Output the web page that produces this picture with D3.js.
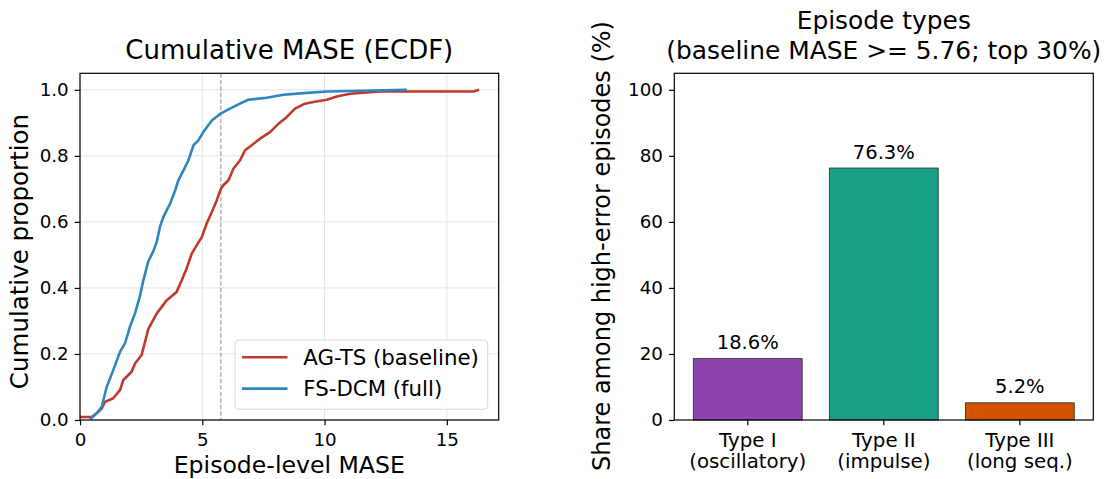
<!DOCTYPE html>
<html>
<head>
<meta charset="utf-8">
<script src="https://cdn.jsdelivr.net/npm/d3@7"></script>
<style>
  body { margin: 0; background: #fff; }
  text { font-family: "DejaVu Sans", sans-serif; fill: #000; }
</style>
</head>
<body>
<svg width="1106" height="479"></svg>
<script>
// ECDF knots
const agtsMase = [0.0, 0.48, 0.68, 0.89, 1.02, 1.36, 1.64, 1.77, 2.11, 2.25, 2.52, 2.79, 3.14, 3.55, 3.95, 4.16, 4.36, 4.57, 4.77, 4.98, 5.18, 5.39, 5.59, 5.76, 5.86, 6.07, 6.27, 6.54, 6.75, 7.02, 7.36, 7.77, 8.11, 8.45, 8.79, 9.20, 9.54, 10.09, 10.5, 11.04, 11.59, 12.27, 16.09, 16.32]
const agtsProp = [0.009, 0.009, 0.02, 0.035, 0.055, 0.066, 0.091, 0.121, 0.146, 0.171, 0.197, 0.275, 0.323, 0.363, 0.388, 0.423, 0.459, 0.504, 0.529, 0.554, 0.595, 0.63, 0.665, 0.70, 0.711, 0.726, 0.761, 0.786, 0.817, 0.832, 0.852, 0.872, 0.897, 0.917, 0.943, 0.958, 0.963, 0.970, 0.980, 0.988, 0.991, 0.995, 0.995, 1.0]

const fsdcmMase = [0.41, 0.68, 0.89, 1.09, 1.36, 1.64, 1.84, 2.04, 2.25, 2.45, 2.59, 2.79, 2.99, 3.14, 3.27, 3.41, 3.68, 3.89, 4.02, 4.23, 4.43, 4.64, 4.84, 5.04, 5.39, 5.73, 6.13, 6.54, 6.88, 7.63, 8.32, 9.13, 10.09, 11.5, 13.36]
const fsdcmProp = [0.002, 0.02, 0.04, 0.10, 0.151, 0.207, 0.232, 0.282, 0.323, 0.375, 0.423, 0.48, 0.51, 0.54, 0.585, 0.615, 0.655, 0.695, 0.726, 0.756, 0.786, 0.832, 0.847, 0.872, 0.907, 0.927, 0.943, 0.958, 0.970, 0.976, 0.985, 0.990, 0.995, 0.997, 1.0]

const threshold = 5.76
const seriesNames = ["AG-TS (baseline)", "FS-DCM (full)"]
const seriesColors = ["#c0392b", "#2e86c1"]
const maseTicks = [0, 5, 10, 15]
const propTicks = [0, 0.2, 0.4, 0.6, 0.8, 1.0]

// bar panel
const typeNames = [["Type I", "(oscillatory)"], ["Type II", "(impulse)"], ["Type III", "(long seq.)"]]
const typeShares = [18.6, 76.3, 5.2]
const typeColors = ["#8e44ad", "#16a085", "#d35400"]
const shareTicks = [0, 20, 40, 60, 80, 100]

let svg = d3.select("svg")
let plotTop = 73.3, plotBottom = 420

// ---------- left: ECDF ----------
let x = d3.scaleLinear().domain([0, 17.12]).range([80, 498.7])
let y = d3.scaleLinear().domain([0, 1.05]).range([plotBottom, plotTop])

let gLeft = svg.append("g")

// grid
gLeft.selectAll("line.gx")
  .data(maseTicks)
  .enter()
  .append("line")
  .attr("x1", d => x(d)).attr("x2", d => x(d))
  .attr("y1", plotTop).attr("y2", plotBottom)
  .attr("stroke", "#e4e4e4").attr("stroke-width", 1)

gLeft.selectAll("line.gy")
  .data(propTicks)
  .enter()
  .append("line")
  .attr("x1", x.range()[0]).attr("x2", x.range()[1])
  .attr("y1", d => y(d)).attr("y2", d => y(d))
  .attr("stroke", "#e4e4e4").attr("stroke-width", 1)

// threshold
gLeft.append("line")
  .attr("x1", x(threshold)).attr("x2", x(threshold))
  .attr("y1", plotTop).attr("y2", plotBottom)
  .attr("stroke", "#a8a8a8")
  .attr("stroke-width", 1.3)
  .attr("stroke-dasharray", "4.5,2")

let line = d3.line()
  .x(d => x(d[0]))
  .y(d => y(d[1]))

let curves = [
  d3.zip(agtsMase, agtsProp),
  d3.zip(fsdcmMase, fsdcmProp)
]

gLeft.selectAll("path.ecdf")
  .data(curves)
  .enter()
  .append("path")
  .attr("d", line)
  .attr("fill", "none")
  .attr("stroke", (d, i) => seriesColors[i])
  .attr("stroke-width", 2.6)
  .attr("stroke-linejoin", "round")

// frame
gLeft.append("rect")
  .attr("x", 80).attr("y", plotTop)
  .attr("width", 498.7 - 80).attr("height", plotBottom - plotTop)
  .attr("fill", "none").attr("stroke", "#000").attr("stroke-width", 1.2)

let xAxis = gLeft.append("g")
  .attr("transform", `translate(0, ${plotBottom})`)
  .call(d3.axisBottom(x).tickValues(maseTicks).tickSize(5.3).tickPadding(8).tickFormat(d3.format("d")))
let yAxis = gLeft.append("g")
  .attr("transform", "translate(80, 0)")
  .call(d3.axisLeft(y).tickValues(propTicks).tickSize(5.3).tickPadding(6).tickFormat(d3.format(".1f")))

// legend
let legend = gLeft.append("g")
legend.append("rect")
  .attr("x", 235).attr("y", 340)
  .attr("width", 252.7).attr("height", 69.3)
  .attr("rx", 4)
  .attr("fill", "#fff").attr("fill-opacity", 0.85)
  .attr("stroke", "#d6d6d6").attr("stroke-width", 1)

let legendRows = legend.selectAll("g.row")
  .data(seriesNames)
  .enter()
  .append("g")
  .attr("transform", (d, i) => `translate(0, ${357.3 + i * 31.3})`)

legendRows.append("line")
  .attr("x1", 242).attr("x2", 287.5)
  .attr("stroke", (d, i) => seriesColors[i])
  .attr("stroke-width", 2.6)

legendRows.append("text")
  .attr("x", 303.3)
  .attr("y", 7.7)
  .style("font-size", "21.3px")
  .text(d => d)

gLeft.append("text")
  .attr("x", 289.3).attr("y", 58.5)
  .attr("text-anchor", "middle")
  .style("font-size", "26px")
  .text("Cumulative MASE (ECDF)")

gLeft.append("text")
  .attr("x", 289.3).attr("y", 472.7)
  .attr("text-anchor", "middle")
  .style("font-size", "23.6px")
  .text("Episode-level MASE")

gLeft.append("text")
  .attr("transform", "translate(27.5, 251.5) rotate(-90)")
  .attr("text-anchor", "middle")
  .style("font-size", "24.5px")
  .text("Cumulative proportion")

// ---------- right: bars ----------
let xb = d3.scaleBand()
  .domain(d3.range(typeShares.length))
  .range([674.3, 1093.3])
  .paddingInner(0.2)
  .paddingOuter(0.14)
let yb = d3.scaleLinear().domain([0, 105]).range([plotBottom, plotTop])

let gRight = svg.append("g")

gRight.selectAll("rect.bar")
  .data(typeShares)
  .enter()
  .append("rect")
  .attr("x", (d, i) => xb(i))
  .attr("y", d => yb(d))
  .attr("width", xb.bandwidth())
  .attr("height", d => yb(0) - yb(d))
  .attr("fill", (d, i) => typeColors[i])
  .attr("stroke", "#333")
  .attr("stroke-width", 0.9)

gRight.selectAll("text.val")
  .data(typeShares)
  .enter()
  .append("text")
  .attr("x", (d, i) => xb(i) + xb.bandwidth() / 2)
  .attr("y", d => yb(d + 1.5) - 4.6)
  .attr("text-anchor", "middle")
  .style("font-size", "19.5px")
  .text(d => d.toFixed(1) + "%")

gRight.append("rect")
  .attr("x", 674.3).attr("y", plotTop)
  .attr("width", 1093.3 - 674.3).attr("height", plotBottom - plotTop)
  .attr("fill", "none").attr("stroke", "#000").attr("stroke-width", 1.2)

let xbAxis = gRight.append("g")
  .attr("transform", `translate(0, ${plotBottom})`)
  .call(d3.axisBottom(xb).tickSize(5.3).tickPadding(8).tickFormat(""))

xbAxis.selectAll(".tick text")
  .style("font-size", "19.8px")
  .attr("dy", null)
  .attr("y", 26.7)
  .each(function (d) {
    let t = d3.select(this)
    typeNames[d].forEach((s, k) => {
      t.append("tspan")
        .attr("x", 0)
        .attr("y", 26.7 + k * 21.6)
        .text(s)
    })
  })

let ybAxis = gRight.append("g")
  .attr("transform", "translate(674.3, 0)")
  .call(d3.axisLeft(yb).tickValues(shareTicks).tickSize(5.3).tickPadding(6).tickFormat(d3.format("d")))

gRight.append("text")
  .attr("x", 883.8).attr("y", 29)
  .attr("text-anchor", "middle")
  .style("font-size", "24.9px")
  .text("Episode types")
gRight.append("text")
  .attr("x", 883.8).attr("y", 58.5)
  .attr("text-anchor", "middle")
  .style("font-size", "24.9px")
  .text(`(baseline MASE >= ${threshold}; top 30%)`)

gRight.append("text")
  .attr("transform", "translate(609.5, 246) rotate(-90)")
  .attr("text-anchor", "middle")
  .style("font-size", "24px")
  .text("Share among high-error episodes (%)")

// axis styling
svg.selectAll(".domain").remove()
svg.selectAll(".tick line").attr("stroke", "#000").attr("stroke-width", 1.2)
xAxis.selectAll("text").style("font-size", "18.3px").attr("fill", "#000")
yAxis.selectAll("text").style("font-size", "18.3px").attr("fill", "#000")
ybAxis.selectAll("text").style("font-size", "18.3px").attr("fill", "#000")
xbAxis.selectAll("text").attr("fill", "#000")
</script>
</body>
</html>
